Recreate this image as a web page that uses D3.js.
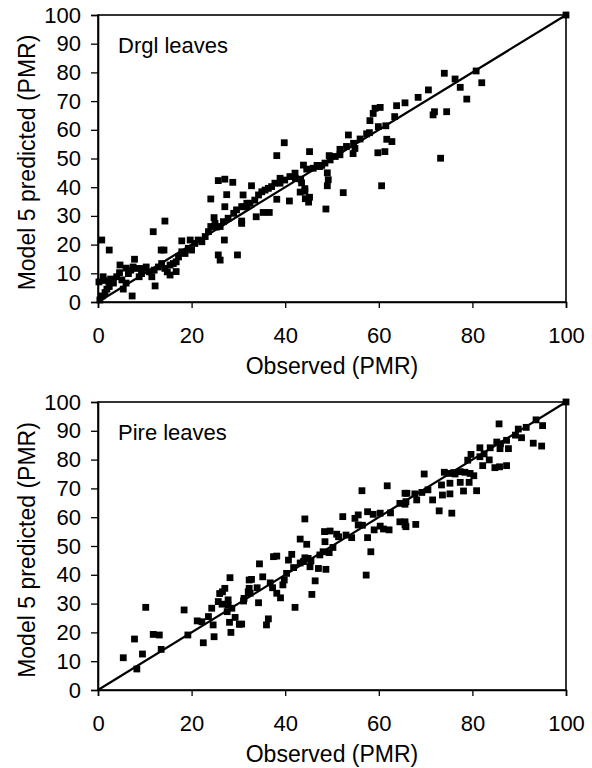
<!DOCTYPE html>
<html><head><meta charset="utf-8">
<script src="https://cdn.jsdelivr.net/npm/d3@7"></script>
<style>body{margin:0;background:#fff}svg{display:block}text{font-family:"Liberation Sans",Arial,sans-serif;fill:#000}</style>
</head><body><svg id="c" width="592" height="768"></svg>
<script>
const xTicks = [0,20,40,60,80,100];
const yTicks = [0,10,20,30,40,50,60,70,80,90,100];
const panelLabels = ["Drgl leaves","Pire leaves"];
const xTitle = "Observed (PMR)";
const yTitle = "Model 5 predicted (PMR)";

// Drgl leaves: observed / predicted
const drglObs = [0.4,0.9,1.5,1.9,2.4,2.7,3.3,4,4.6,5.1,5.4,6,6.5,7,7.5,8.3,8.8,9.3,9.7,10.3,11,11.5,12,12.9,13.6,14.3,14.8,15.4,16.1,16.7,17.2,17.9,18.6,19.3,20,20.7,21.4,22.2,22.9,23.6,24.1,25,26.1,26.8,27.8,29,29.6,30.7,31.8,
 0.8,2.4,1.1,0.2,1.2,2.3,4.7,6.0,7.8,7.3,12.2,11.8,14.3,14.1,13.5,15.4,16.7,17.9,19.7,24.1,25.7,27.1,28.8,27.5,31,24.8,27.1,30.7,29.8,25.7,26.1,27,25.3,
 30.7,31,32.8,33.8,35.3,36.6,38.2,38.9,40.9,38.2,39.8,42.2,43.3,43.9,43.5,44.2,43.2,44.3,45,44.2,45.2,45.2,46.8,47.8,48.7,49,49.2,49,49.4,51.7,51.7,52.4,53.5,54.5,54.9,56,58,58.1,58.8,59.2,60.3,59.8,61.3,61.7,62.8,61.5,60.6,63.8,65.6,
 31.8,32.5,33.5,34.3,35,35.7,36.4,37.1,37.8,38.9,39.9,41,42.1,44.6,46,47.4,48.5,49.6,50.7,53.1,54.6,57.4,59.9,63.4,
 68.4,70.6,74,76.3,77.4,80.8,82,78.8,71.6,71.9,74.5,73.2,100];
const drglPred = [0.7,2.1,3.3,4.5,5.4,8,6.6,8.8,10.2,7.7,4.5,6.6,9.9,11.1,12.2,11.7,8.8,9.9,11.7,12.2,10.5,8.8,11.1,12.2,13.4,11.7,10.5,12.9,13.4,14,15.7,17.5,16.9,18.7,18.1,20.4,21.6,21,22.8,24.5,26.3,27.4,26.3,28,29.2,30.9,32.1,33.2,34.4,
 21.6,18.1,8.8,7,7.5,7.2,12.9,11.8,14.9,2.1,5.6,24.5,28.2,18.1,18.1,9.4,10.6,21.3,21.6,35.9,42.3,42.8,41.7,37.4,37.3,29.4,33.2,28.2,16.4,16.4,14.6,21.6,26.1,
 27.4,33.2,40.5,29.7,31.2,31.2,35.8,43.1,35.2,51,55.5,43,42.8,47.7,41.5,39.5,38.3,36,34.8,38.6,36.5,52.4,47.6,47.6,32.4,40.5,42.6,45,51,53.2,51.3,38.1,58.2,51.7,53.5,56.8,59,63.2,65.7,67.5,67.8,52,52.4,56.7,55.9,61.4,40.5,68.4,69.4,
 33.2,34.4,35.5,37.3,38.4,39,39.6,40.2,41.4,41.4,42.5,43.7,44.9,46.3,46.6,47.2,48.4,49.5,50.7,54.2,55.3,58.6,61.1,64.6,
 71.3,73.9,79.7,77.7,74.8,80.5,76.4,70.7,65.2,66.3,66.3,50.1,100];

// Pire leaves: observed / predicted
const pireObs = [5.4,8.3,7.8,9.5,10.2,11.8,13.1,13.5,18.4,19.2,22.5,21.2,22.2,23.6,24.6,24.3,24.8,25.7,26.6,27.1,28.2,27.8,27.6,28.6,29.3,28.4,30.2,28.1,31.2,32.3,32.1,26,27.8,26.5,
 30.7,31.1,32.3,32.5,32.8,34.3,34.5,35.2,36,36.4,37.5,38.2,37.3,38.2,39,39.5,39.8,40.3,40.7,41.4,42.1,43.2,43.2,43.9,44.2,44.9,45.3,44.2,44.6,45.7,46.4,47.1,48.7,47.4,48.1,49.4,48.5,48.4,49.6,51,51.4,52.3,54.2,54.9,55.6,55.6,56.4,57.3,57.6,58.3,57.6,58.8,60.3,59,60.3,61,62.2,61.8,64.5,65.8,64.5,65.8,66,
 65.6,65.6,65.6,65.6,67.7,68.1,67.9,69.2,69.7,71.5,72.9,75.6,73.4,73.6,75.2,75.2,74,74.9,76.3,77.4,78.4,79.5,80.3,77.4,78.1,79.3,80.9,79.7,81.6,81.6,82.2,83.6,84.8,85.8,87.3,83.8,85.2,85.9,87.3,87.7,85.7,89.8,90.5,93,94.8,93.6,95,100,
 34,36.8,41.8,45.5,50.2,53,56.5,62.5,70.5,76,79,82.5,86,89.2,91.5];
const pirePred = [11.2,7.3,17.7,12.5,28.7,19.3,19.1,14.1,27.8,19.1,16.4,24,23.7,25.5,22.6,28.4,18.5,30.7,34.1,35.3,39,31.3,27.2,28.4,25.2,20,22.8,23.5,31.8,38.2,34.1,33.5,29.5,29.8,
 22.9,30.9,35.3,33.6,38.4,30.3,43.8,39.3,22.6,24.7,46.3,46.5,35.5,33.6,32,36.5,38.2,40.5,45.1,47.1,28.7,52.4,44.1,44.6,45.9,45.7,42.8,59.4,50.6,33.2,37.9,42.2,41.9,46.9,48,47.7,51.5,55,55.2,54.1,53.2,60.2,52.9,59.6,60.8,57.3,69.2,39.9,52.9,48,61.9,61,61.4,55.6,56.9,55.9,55.6,70.9,58.4,56.7,64.8,65.4,68.3,
 64.5,68.3,57.3,58.4,68.1,66,57.5,68.6,75,66,62.2,61.4,71.2,67.7,68.1,71.8,75.6,75.2,75,75.8,75.6,75.2,74.4,72.1,69.1,72.1,69.2,81.8,84.1,81,77.9,79.9,77.2,77.5,77.9,84.1,86.1,83.8,86.7,83.8,92.4,90.6,87.6,85.7,84.7,93.8,91.8,100,
 35.5,37.2,42.5,44.8,49.5,53.8,57.2,61.5,69.5,75.5,79.8,82,85.5,88.5,91.2];

const panels = [
  {label: panelLabels[0], obs: drglObs, pred: drglPred, top: 15, bottom: 302},
  {label: panelLabels[1], obs: pireObs, pred: pirePred, top: 402, bottom: 690}
];
const svg = d3.select("#c");
const left = 98, right = 566;

panels.forEach(p => {
  const x = d3.scaleLinear().domain([0,100]).range([left, right]);
  const y = d3.scaleLinear().domain([0,100]).range([p.bottom, p.top]);
  const g = svg.append("g");
  g.append("rect").attr("x", left).attr("y", p.top).attr("width", right-left).attr("height", p.bottom-p.top)
    .attr("fill","none").attr("stroke","#000").attr("stroke-width",1.6);
  const xa = g.append("g").attr("transform",`translate(0,${p.bottom})`)
    .call(d3.axisBottom(x).tickValues(xTicks).tickSize(6).tickPadding(19).tickFormat(d3.format("d")));
  const ya = g.append("g").attr("transform",`translate(${left},0)`)
    .call(d3.axisLeft(y).tickValues(yTicks).tickSize(7).tickPadding(10).tickFormat(d3.format("d")));
  [xa, ya].forEach(a => {
    a.select(".domain").attr("stroke","#000").attr("stroke-width",1.6);
    a.selectAll(".tick line").attr("stroke","#000").attr("stroke-width",1.3);
    a.selectAll("text").style("font-size","22px").attr("fill","#000");
  });
  g.append("line").attr("x1", x(0)).attr("y1", y(0)).attr("x2", x(100)).attr("y2", y(100))
    .attr("stroke","#000").attr("stroke-width",2.2);
  const s = 6.8;
  g.selectAll("rect.pt").data(d3.range(p.obs.length)).enter().append("rect").attr("class","pt")
    .attr("x", i => x(p.obs[i]) - s/2).attr("y", i => y(p.pred[i]) - s/2)
    .attr("width", s).attr("height", s).attr("fill","#000");
  g.append("text").attr("x", left+20).attr("y", p.top+38).style("font-size","22px").text(p.label);
  g.append("text").attr("x", (left+right)/2).attr("y", p.bottom+72).attr("text-anchor","middle")
    .style("font-size","23px").text(xTitle);
  g.append("text").attr("transform",`translate(35,${(p.top+p.bottom)/2+4}) rotate(-90)`).attr("text-anchor","middle")
    .style("font-size","23px").text(yTitle);
});
</script></body></html>
